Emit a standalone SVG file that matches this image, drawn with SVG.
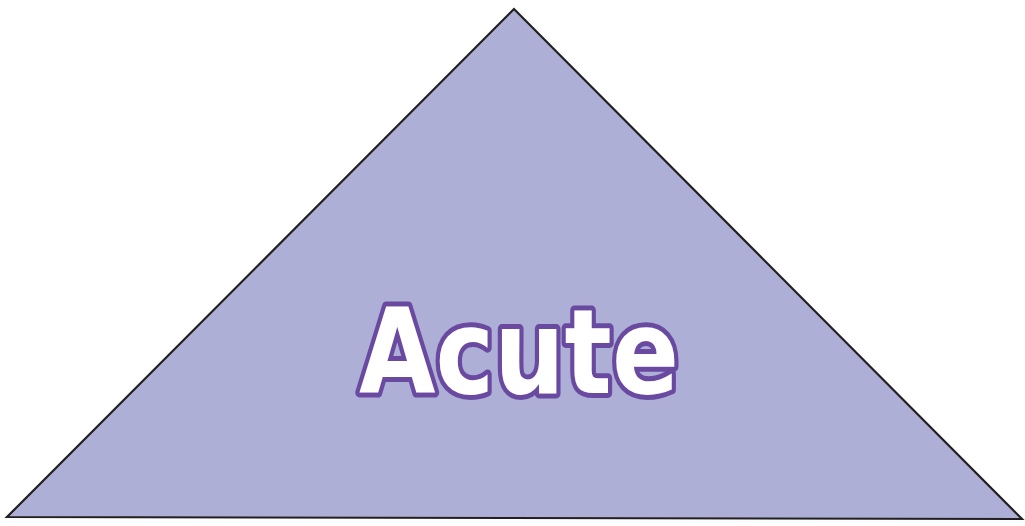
<svg xmlns="http://www.w3.org/2000/svg" width="1025" height="526" viewBox="0 0 1025 526">
<style>
.tri{fill:#ADAFD6;stroke:#231F20;stroke-width:2.2;stroke-linejoin:miter}
.lbl{font-family:"DejaVu Sans",sans-serif;font-weight:bold;font-size:118px;fill:#FFFFFF;stroke:#6A4AA0;stroke-width:10;paint-order:stroke;stroke-linejoin:round}
</style>
<rect width="1025" height="526" fill="#FFFFFF"/>
<g id="triangle">
<polygon class="tri" points="514,9 7,517 1022,519"/>
</g>
<g id="label">
<text class="lbl" x="519" y="393" text-anchor="middle" textLength="320" lengthAdjust="spacingAndGlyphs">Acute</text>
</g>
</svg>
